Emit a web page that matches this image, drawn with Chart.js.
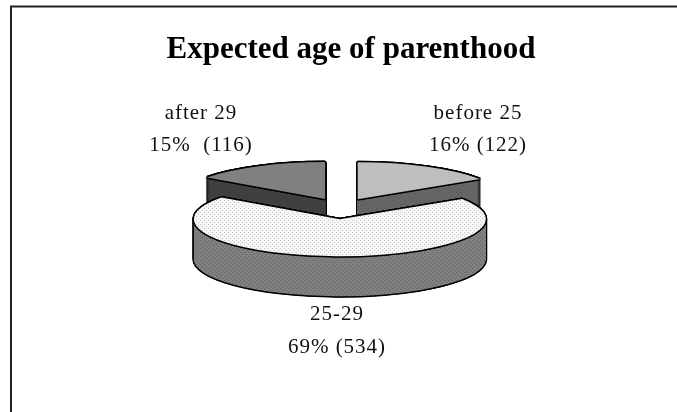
<!DOCTYPE html>
<html>
<head>
<meta charset="utf-8">
<script src="https://cdn.jsdelivr.net/npm/chart.js@4"></script>
<style>
html,body{margin:0;padding:0;background:#fff;}
canvas{display:block;}
</style>
</head>
<body>
<canvas id="c" width="677" height="412"></canvas>
<script>
const chartTitle = 'Expected age of parenthood';
const categories = ['before 25', '25-29', 'after 29'];
const counts = [122, 534, 116];
const percents = ['16%', '69%', '15%'];
const countLabels = ['16% (122)', '69% (534)', '15%  (116)'];

const topColors = ['#c0c0c0', '#f6f6f6', '#808080'];
const wallColors = ['#666666', '#808080', '#404040'];
const dotColors = { top: ['#b0b0b0', '#c4c4c4', null], wall: ['#5a5a5a', '#606060', null] };
const explodeBy = [35, 48, 35];
const labelCenters = [[478, 113, 145], [337, 314, 347], [201, 113, 145]];

const center = { x: 341, y: 207 }, radiusX = 146, radiusY = 37, depth = 40, halo = 1.5;

function dotted(base, dot) {
  if (!dot) return base;
  const t = document.createElement('canvas');
  t.width = t.height = 4;
  const g = t.getContext('2d');
  g.fillStyle = base; g.fillRect(0, 0, 4, 4);
  g.fillStyle = dot; g.fillRect(0, 0, 1, 1); g.fillRect(2, 2, 1, 1);
  return g.createPattern(t, 'repeat');
}

const slicePlugin = {
  id: 'slice3d',
  beforeDraw(chart) {
    const ctx = chart.ctx;
    ctx.fillStyle = '#fff';
    ctx.fillRect(0, 0, chart.width, chart.height);
    ctx.strokeStyle = '#222';
    ctx.lineWidth = 2;
    ctx.beginPath();
    ctx.moveTo(677, 6.5); ctx.lineTo(11, 6.5); ctx.lineTo(11, 412);
    ctx.stroke();
  },
  beforeDatasetDraw(chart) {
    const ctx = chart.ctx;
    const arcs = chart.getDatasetMeta(0).data;
    const paintArc = (arc, i, fill, ox, oy) => {
      const half = (arc.startAngle + arc.endAngle) / 2;
      const sx = radiusX / arc.outerRadius, sy = radiusY / arc.outerRadius;
      ctx.save();
      ctx.translate(center.x + Math.cos(half) * explodeBy[i] + ox,
                    center.y + Math.sin(half) * explodeBy[i] * radiusY / radiusX + oy);
      ctx.scale(sx, sy);
      ctx.translate(-arc.x, -arc.y);
      if (fill instanceof CanvasPattern) fill.setTransform(ctx.getTransform().inverse());
      const saved = arc.options;
      arc.options = { backgroundColor: fill, borderColor: fill, borderWidth: 0, borderAlign: 'center',
                      offset: 0, spacing: 0, circular: true, borderRadius: 0, borderJoinStyle: 'round' };
      arc.draw(ctx);
      arc.options = saved;
      ctx.restore();
    };
    const dirs = [[1,0],[-1,0],[0,1],[0,-1],[.7,.7],[-.7,.7],[.7,-.7],[-.7,-.7]];
    [0, 2, 1].forEach(i => {
      const arc = arcs[i];
      const wall = dotted(wallColors[i], dotColors.wall[i]);
      const top = dotted(topColors[i], dotColors.top[i]);
      for (let d = depth; d >= 0; d -= 1) {
        if (d === depth || d === 0 || d % 2 === 0)
          dirs.forEach(v => paintArc(arc, i, '#000', v[0] * halo, v[1] * halo + d));
      }
      for (let d = depth; d > 0; d -= 1) paintArc(arc, i, wall, 0, d);
      dirs.forEach(v => paintArc(arc, i, '#000', v[0] * halo, v[1] * halo));
      paintArc(arc, i, top, 0, 0);
    });
    return false;
  },
  afterDraw(chart) {
    const ctx = chart.ctx;
    ctx.save();
    ctx.font = '21px "Liberation Serif"';
    ctx.letterSpacing = '1px';
    ctx.fillStyle = '#111';
    ctx.textAlign = 'center';
    ctx.textBaseline = 'middle';
    categories.forEach((c, i) => {
      const p = labelCenters[i];
      ctx.fillText(c, p[0], p[1]);
      ctx.fillText(countLabels[i], p[0], p[2]);
    });
    ctx.restore();
  }
};

new Chart(document.getElementById('c'), {
  type: 'pie',
  data: {
    labels: categories,
    datasets: [{ data: counts, backgroundColor: topColors, borderWidth: 0 }]
  },
  options: {
    responsive: false,
    animation: false,
    layout: { padding: { left: 25, top: 0 } },
    plugins: {
      legend: { display: false },
      tooltip: { enabled: false },
      title: {
        display: true,
        text: chartTitle,
        color: '#000',
        font: { family: '"Liberation Serif"', size: 31, weight: 'bold' },
        padding: { top: 31, bottom: 10 }
      }
    }
  },
  plugins: [slicePlugin]
});
</script>
</body>
</html>
